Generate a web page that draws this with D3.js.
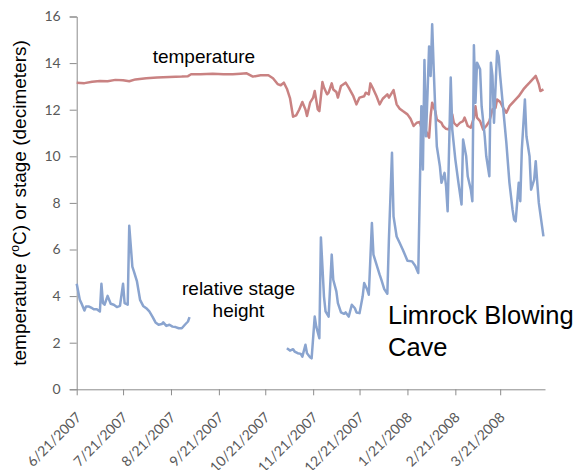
<!DOCTYPE html>
<html><head><meta charset="utf-8">
<script src="https://cdn.jsdelivr.net/npm/d3@7/dist/d3.min.js"></script>
<style>body{margin:0;background:#fff}svg{display:block}</style>
</head><body>
<svg id="c" width="578" height="470"></svg>
<script>
// ---- data ----
const tickDates = ["6/21/2007","7/21/2007","8/21/2007","9/21/2007","10/21/2007","11/21/2007","12/21/2007","1/21/2008","2/21/2008","3/21/2008"];
const yTicks = [0,2,4,6,8,10,12,14,16];
const domainStart = "6/21/2007", domainEnd = "4/19/2008";

const tempDates = ["6/21/2007","6/26/2007","7/1/2007","7/6/2007","7/11/2007","7/16/2007","7/21/2007","7/25/2007","7/29/2007","8/5/2007","8/12/2007","8/20/2007","8/28/2007","9/1/2007","9/3/2007","9/9/2007","9/17/2007","9/24/2007","9/30/2007","10/5/2007","10/9/2007","10/13/2007","10/18/2007","10/23/2007","10/26/2007","10/29/2007","10/31/2007","11/2/2007","11/4/2007","11/6/2007","11/8/2007","11/10/2007","11/12/2007","11/14/2007","11/16/2007","11/17/2007","11/19/2007","11/21/2007","11/22/2007","11/24/2007","11/25/2007","11/27/2007","11/28/2007","11/30/2007","12/1/2007","12/3/2007","12/4/2007","12/6/2007","12/7/2007","12/9/2007","12/12/2007","12/14/2007","12/17/2007","12/19/2007","12/21/2007","12/24/2007","12/25/2007","12/27/2007","12/28/2007","12/30/2007","1/1/2008","1/3/2008","1/5/2008","1/8/2008","1/9/2008","1/12/2008","1/14/2008","1/16/2008","1/18/2008","1/21/2008","1/23/2008","1/25/2008","1/27/2008","1/29/2008","1/30/2008","1/31/2008","2/2/2008","2/4/2008","2/5/2008","2/6/2008","2/8/2008","2/9/2008","2/12/2008","2/13/2008","2/15/2008","2/17/2008","2/19/2008","2/20/2008","2/22/2008","2/24/2008","2/26/2008","2/27/2008","2/29/2008","3/2/2008","3/4/2008","3/5/2008","3/6/2008","3/8/2008","3/10/2008","3/12/2008","3/14/2008","3/16/2008","3/18/2008","3/19/2008","3/21/2008","3/23/2008","3/25/2008","3/27/2008","3/30/2008","4/2/2008","4/5/2008","4/7/2008","4/9/2008","4/12/2008","4/13/2008","4/15/2008","4/16/2008","4/18/2008"];
const tempValues = [13.16,13.14,13.20,13.23,13.22,13.28,13.26,13.22,13.30,13.35,13.38,13.40,13.42,13.44,13.52,13.52,13.54,13.52,13.52,13.54,13.56,13.42,13.48,13.48,13.35,13.10,13.05,13.16,12.90,12.50,11.70,11.76,12.01,12.33,12.01,11.73,12.30,12.52,12.80,12.01,11.94,13.19,12.95,12.66,12.73,13.13,12.87,12.76,12.52,13.02,13.16,12.95,12.58,12.23,12.52,12.58,12.73,12.66,13.13,12.87,12.58,12.23,12.47,12.66,12.52,12.84,12.23,12.04,11.94,11.80,11.61,11.30,11.44,11.47,11.23,11.58,11.08,10.80,11.73,12.30,11.94,11.58,11.44,11.30,11.18,11.15,11.80,11.44,11.30,11.44,11.51,11.66,11.30,11.23,11.66,12.15,11.66,11.51,11.15,11.30,11.51,12.01,12.08,12.44,12.33,12.08,11.87,12.15,12.37,12.58,12.87,13.02,13.16,13.38,13.45,13.09,12.80,12.87];

// stage: null marks the gap in the record
const stageDates = ["6/21/2007","6/23/2007","6/24/2007","6/26/2007","6/27/2007","6/29/2007","7/1/2007","7/2/2007","7/4/2007","7/6/2007","7/7/2007","7/8/2007","7/9/2007","7/11/2007","7/13/2007","7/15/2007","7/17/2007","7/19/2007","7/21/2007","7/22/2007","7/24/2007","7/25/2007","7/27/2007","7/28/2007","7/30/2007","8/1/2007","8/3/2007","8/5/2007","8/7/2007","8/9/2007","8/11/2007","8/13/2007","8/15/2007","8/16/2007","8/18/2007","8/20/2007","8/22/2007","8/24/2007","8/26/2007","8/28/2007","8/30/2007","9/1/2007","9/2/2007",
"10/1/2007",
"11/4/2007","11/6/2007","11/8/2007","11/9/2007","11/11/2007","11/13/2007","11/14/2007","11/16/2007","11/17/2007","11/19/2007","11/20/2007","11/22/2007","11/23/2007","11/25/2007","11/26/2007","11/28/2007","11/29/2007","12/1/2007","12/3/2007","12/4/2007","12/6/2007","12/7/2007","12/9/2007","12/11/2007","12/12/2007","12/14/2007","12/16/2007","12/18/2007","12/19/2007","12/21/2007","12/23/2007","12/24/2007","12/26/2007","12/27/2007","12/29/2007","12/30/2007","1/1/2008","1/3/2008","1/4/2008","1/6/2008","1/8/2008","1/9/2008","1/11/2008","1/12/2008","1/14/2008","1/16/2008","1/18/2008","1/21/2008","1/24/2008","1/26/2008","1/28/2008","1/30/2008","1/31/2008","2/1/2008","2/2/2008","2/3/2008","2/4/2008","2/5/2008","2/6/2008","2/7/2008","2/8/2008","2/9/2008","2/11/2008","2/12/2008","2/14/2008","2/15/2008","2/16/2008","2/18/2008","2/19/2008","2/21/2008","2/23/2008","2/25/2008","2/26/2008","2/28/2008","2/29/2008","3/2/2008","3/3/2008","3/4/2008","3/5/2008","3/6/2008","3/8/2008","3/9/2008","3/11/2008","3/12/2008","3/14/2008","3/15/2008","3/16/2008","3/17/2008","3/19/2008","3/20/2008","3/21/2008","3/23/2008","3/25/2008","3/27/2008","3/29/2008","3/30/2008","3/31/2008","4/2/2008","4/3/2008","4/4/2008","4/6/2008","4/7/2008","4/9/2008","4/10/2008","4/12/2008","4/13/2008","4/14/2008","4/15/2008","4/18/2008"];
const stageValues = [4.53,3.84,3.70,3.38,3.55,3.55,3.48,3.44,3.44,3.34,4.53,3.70,3.63,4.01,3.67,3.63,3.53,3.58,4.53,3.70,3.63,7.02,5.27,5.06,4.63,3.84,3.58,3.48,3.34,3.12,2.87,2.77,2.80,2.87,2.72,2.77,2.69,2.67,2.62,2.62,2.77,2.91,3.10,
null,
1.76,1.66,1.72,1.62,1.55,1.52,1.40,1.91,1.55,1.38,1.33,3.12,2.69,2.19,6.52,3.98,3.34,3.12,5.78,4.70,4.20,3.70,3.30,3.24,3.30,3.12,3.63,3.48,3.30,3.27,3.98,4.56,4.27,4.06,7.14,5.78,5.35,4.92,4.73,4.30,4.10,6.42,10.15,7.42,6.56,6.28,5.99,5.52,5.49,5.30,4.99,12.15,9.43,14.13,10.86,12.73,14.71,13.45,15.67,13.73,12.01,10.43,9.57,8.86,9.29,8.71,7.64,13.38,11.15,9.86,8.86,7.93,10.72,10.0,9.14,8.57,8.07,14.77,12.30,14.02,13.73,12.15,10.86,10.0,9.14,14.02,13.45,11.44,14.52,14.30,13.45,12.01,10.58,8.86,7.71,7.28,7.21,8.86,8.07,10.29,12.44,10.86,10.0,8.57,9.0,9.79,8.86,8.0,6.56];

// ---- drawing ----
const parse = d3.timeParse("%m/%d/%Y");
const svg = d3.select("#c");
const x = d3.scaleTime().domain([parse(domainStart), parse(domainEnd)]).range([76.7, 545]);
const y = d3.scaleLinear().domain([0, 16]).range([389.3, 16.5]);
const axisColor = "#8c8c8c", labelColor = "#595959";
const tickFont = "Lato, 'Liberation Sans', sans-serif";
const textFont = "'Liberation Sans', Arial, sans-serif";

// y axis
const yAxis = svg.append("g").attr("transform", "translate(76.7,0)")
  .call(d3.axisLeft(y).tickValues(yTicks).tickSize(7).tickPadding(9).tickFormat(d3.format("d")));
yAxis.select(".domain").attr("stroke", axisColor).attr("stroke-width", 1);
yAxis.selectAll(".tick line").attr("stroke", axisColor);
yAxis.selectAll(".tick text").attr("fill", labelColor).style("font-family", tickFont).style("font-size", "14px");

// x axis
const xAxis = svg.append("g").attr("transform", "translate(0,389.3)")
  .call(d3.axisBottom(x).tickValues(tickDates.map(parse)).tickSize(6).tickSizeOuter(0).tickFormat(d3.timeFormat("%-m/%-d/%Y")));
xAxis.select(".domain").attr("stroke", axisColor).attr("stroke-width", 1);
xAxis.selectAll(".tick line").attr("stroke", axisColor);
xAxis.selectAll(".tick text").attr("fill", labelColor).style("font-family", tickFont).style("font-size", "14px")
  .attr("text-anchor", "end").attr("dy", null).attr("y", null)
  .attr("transform", "translate(5,29) rotate(-45)");

// lines
const tempData = tempDates.map((d, i) => ({date: parse(d), v: tempValues[i]}));
const stageData = stageDates.map((d, i) => ({date: parse(d), v: stageValues[i]}));
const line = d3.line().defined(d => d.v !== null).x(d => x(d.date)).y(d => y(d.v));
svg.append("path").datum(tempData).attr("d", line).attr("fill", "none")
  .attr("stroke", "#c98282").attr("stroke-width", 2.5).attr("stroke-linejoin", "round");
svg.append("path").datum(stageData).attr("d", line).attr("fill", "none")
  .attr("stroke", "#8aa4cf").attr("stroke-width", 2.5).attr("stroke-linejoin", "round");

// texts
const yt = svg.append("text").attr("transform", "translate(26,203) rotate(-90)")
  .attr("text-anchor", "middle").style("font-family", textFont).style("font-size", "19px").attr("fill", "#000");
yt.append("tspan").text("temperature (");
yt.append("tspan").text("o").style("font-size", "12px").attr("dy", -7);
yt.append("tspan").text("C) or stage (decimeters)").attr("dy", 7);

svg.append("text").attr("x", 152.7).attr("y", 62.7).text("temperature")
  .style("font-family", textFont).style("font-size", "19px");
svg.append("text").attr("x", 238.5).attr("y", 295).attr("text-anchor", "middle").text("relative stage")
  .style("font-family", textFont).style("font-size", "19px");
svg.append("text").attr("x", 238.5).attr("y", 317).attr("text-anchor", "middle").text("height")
  .style("font-family", textFont).style("font-size", "19px");
svg.append("text").attr("x", 388).attr("y", 324).text("Limrock Blowing")
  .style("font-family", textFont).style("font-size", "25.5px");
svg.append("text").attr("x", 388).attr("y", 356).text("Cave")
  .style("font-family", textFont).style("font-size", "25.5px");
</script>
</body></html>
